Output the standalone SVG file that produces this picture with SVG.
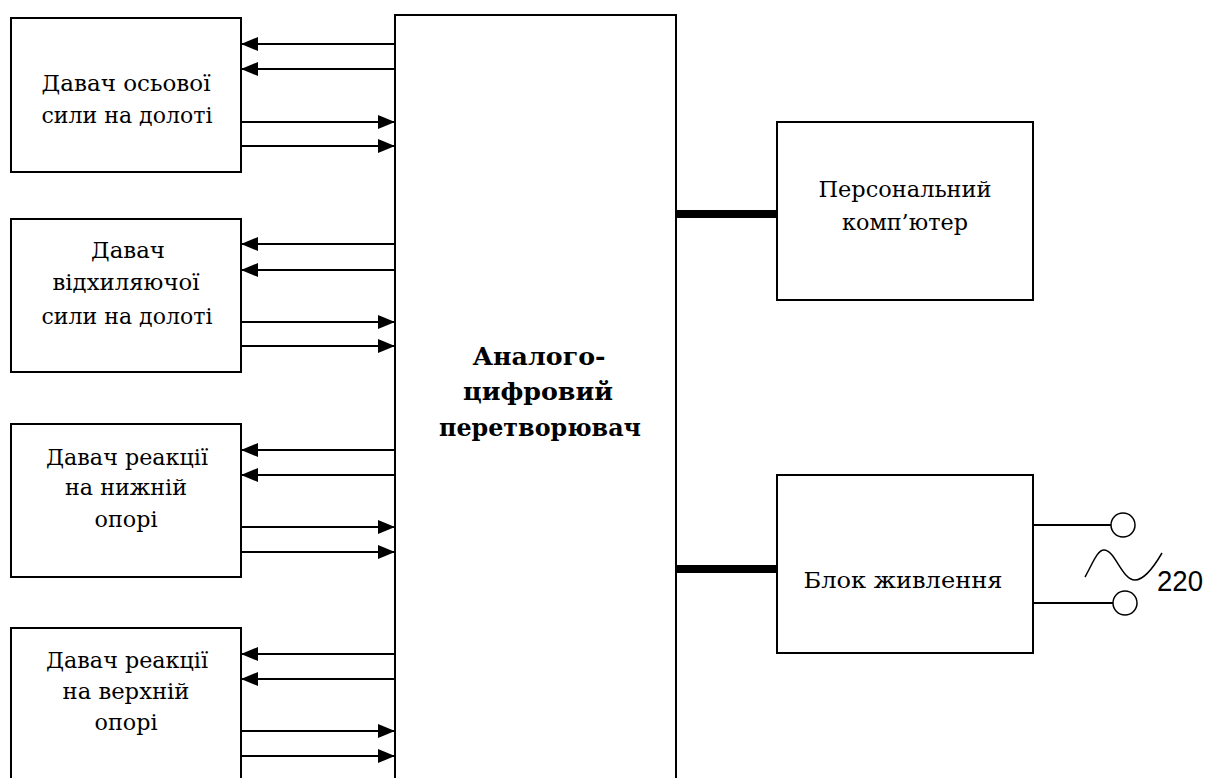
<svg xmlns="http://www.w3.org/2000/svg" width="1207" height="778" viewBox="0 0 1207 778">
<style>
.box{fill:#fff;stroke:#000;stroke-width:2}
.ln{stroke:#000;stroke-width:2;fill:none}
.thin{stroke:#000;stroke-width:1.5;fill:none}
.thick{stroke:#000;stroke-width:8}
.t{font-family:"DejaVu Serif","Liberation Serif",serif;font-size:23px;fill:#000;text-anchor:middle}
.b{font-family:"DejaVu Serif","Liberation Serif",serif;font-size:25px;font-weight:bold;fill:#000;text-anchor:middle}
.s{font-family:"Liberation Sans",Arial,sans-serif;font-size:29px;fill:#000}
</style>
<defs>
<marker id="ah" markerUnits="userSpaceOnUse" markerWidth="18" markerHeight="14" refX="17" refY="7" orient="auto">
<path d="M0,0 L17,7 L0,14 z" fill="#000"/>
</marker>
</defs>
<rect width="1207" height="778" fill="#fff"/>
<g id="adc">
<rect class="box" x="395" y="15" width="281" height="780"/>
<text class="b" x="539" y="365" textLength="133" lengthAdjust="spacingAndGlyphs">Аналого-</text>
<text class="b" x="538" y="400" textLength="150" lengthAdjust="spacingAndGlyphs">цифровий</text>
<text class="b" x="540" y="436" textLength="202" lengthAdjust="spacingAndGlyphs">перетворювач</text>
</g>
<g id="s1">
<rect class="box" x="11" y="18" width="230" height="154"/>
<text class="t" x="126" y="91" textLength="169" lengthAdjust="spacingAndGlyphs">Давач осьової</text>
<text class="t" x="127" y="123" textLength="171" lengthAdjust="spacingAndGlyphs">сили на долоті</text>
</g>
<g id="s2">
<rect class="box" x="11" y="219" width="230" height="153"/>
<text class="t" x="128" y="258" textLength="74" lengthAdjust="spacingAndGlyphs">Давач</text>
<text class="t" x="126" y="290" textLength="147" lengthAdjust="spacingAndGlyphs">відхиляючої</text>
<text class="t" x="127" y="324" textLength="171" lengthAdjust="spacingAndGlyphs">сили на долоті</text>
</g>
<g id="s3">
<rect class="box" x="11" y="424" width="230" height="153"/>
<text class="t" x="127" y="465" textLength="162" lengthAdjust="spacingAndGlyphs">Давач реакції</text>
<text class="t" x="126" y="495" textLength="122" lengthAdjust="spacingAndGlyphs">на нижній</text>
<text class="t" x="126" y="527" textLength="63" lengthAdjust="spacingAndGlyphs">опорі</text>
</g>
<g id="s4">
<rect class="box" x="11" y="628" width="230" height="170"/>
<text class="t" x="127" y="668" textLength="162" lengthAdjust="spacingAndGlyphs">Давач реакції</text>
<text class="t" x="126" y="699" textLength="127" lengthAdjust="spacingAndGlyphs">на верхній</text>
<text class="t" x="126" y="730" textLength="63" lengthAdjust="spacingAndGlyphs">опорі</text>
</g>
<g id="pc">
<rect class="box" x="777" y="122" width="256" height="178"/>
<text class="t" x="905" y="197" textLength="173" lengthAdjust="spacingAndGlyphs">Персональний</text>
<text class="t" x="905" y="230" textLength="126" lengthAdjust="spacingAndGlyphs">комп’ютер</text>
</g>
<g id="psu">
<rect class="box" x="777" y="475" width="256" height="178"/>
<text class="t" x="903" y="588" textLength="199" lengthAdjust="spacingAndGlyphs">Блок живлення</text>
</g>
<g id="mains">
<circle class="thin" cx="1123" cy="525" r="12"/>
<circle class="thin" cx="1125" cy="603" r="12"/>
<path class="thin" d="M1085,577 C1092,565 1097,550 1104,550 C1115,550 1122,580 1135,580 C1145,580 1155,565 1162,553"/>
<text class="s" x="1157" y="591" textLength="46" lengthAdjust="spacingAndGlyphs">220</text>
</g>
<g id="connectors">
<g class="ln" marker-end="url(#ah)">
<line x1="395" y1="44" x2="241" y2="44"/>
<line x1="395" y1="69" x2="241" y2="69"/>
<line x1="241" y1="122" x2="395" y2="122"/>
<line x1="241" y1="146" x2="395" y2="146"/>
<line x1="395" y1="244" x2="241" y2="244"/>
<line x1="395" y1="270" x2="241" y2="270"/>
<line x1="241" y1="322" x2="395" y2="322"/>
<line x1="241" y1="346" x2="395" y2="346"/>
<line x1="395" y1="450" x2="241" y2="450"/>
<line x1="395" y1="475" x2="241" y2="475"/>
<line x1="241" y1="527" x2="395" y2="527"/>
<line x1="241" y1="552" x2="395" y2="552"/>
<line x1="395" y1="654" x2="241" y2="654"/>
<line x1="395" y1="679" x2="241" y2="679"/>
<line x1="241" y1="731" x2="395" y2="731"/>
<line x1="241" y1="756" x2="395" y2="756"/>
</g>
<line class="thick" x1="676" y1="214" x2="777" y2="214"/>
<line class="thick" x1="676" y1="569" x2="777" y2="569"/>
<line class="ln" x1="1033" y1="525" x2="1111" y2="525"/>
<line class="ln" x1="1033" y1="603" x2="1113" y2="603"/>
</g>
</svg>
